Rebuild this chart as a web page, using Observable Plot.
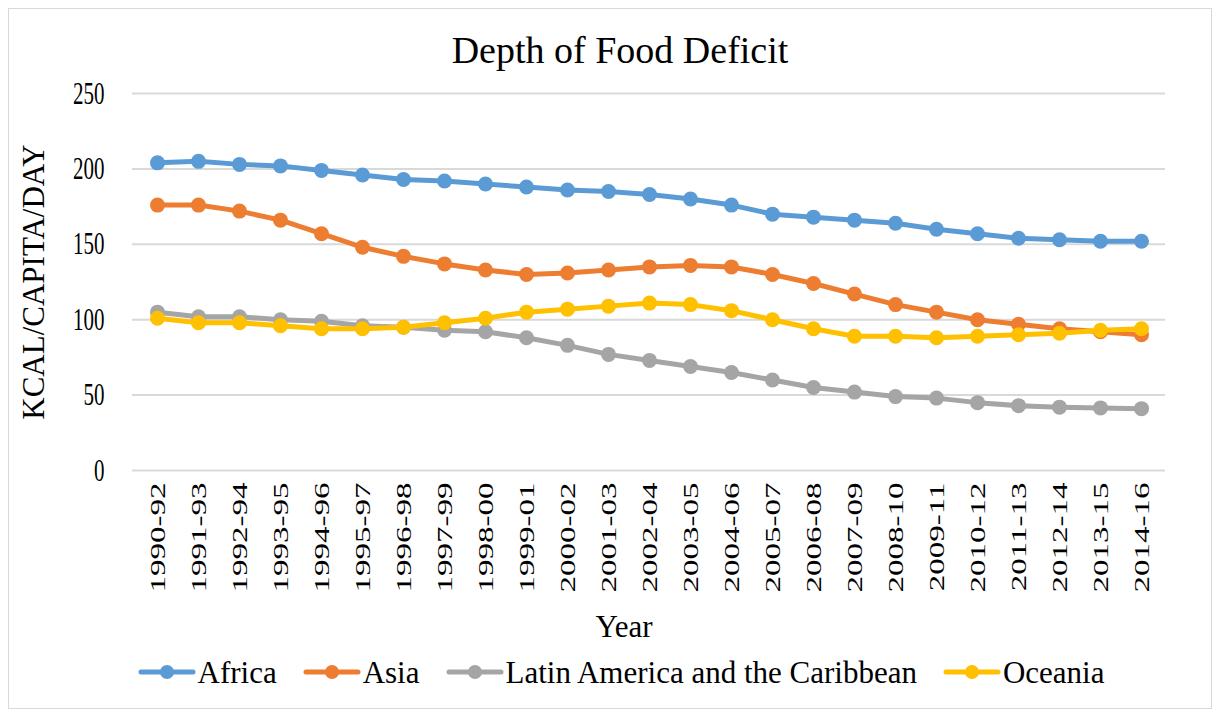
<!DOCTYPE html>
<html>
<head>
<meta charset="utf-8">
<script src="https://cdn.jsdelivr.net/npm/d3@7"></script>
<script src="https://cdn.jsdelivr.net/npm/@observablehq/plot@0.6"></script>
<style>
  html, body { margin: 0; padding: 0; background: #fff; }
  #wrap { position: relative; width: 1221px; height: 717px; overflow: hidden; font-family: "Liberation Serif", "Times New Roman", serif; color: #000; }
  #frame { position: absolute; left: 8px; top: 8px; width: 1204px; height: 701px; border: 1px solid #d9d9d9; box-sizing: border-box; }
  #chart { position: absolute; left: 0; top: 0; }
  #chart svg, #chart svg text { font-family: "Liberation Serif", "Times New Roman", serif !important; }
  .lbl { position: absolute; white-space: nowrap; line-height: 1; }
  #title { left: 0; width: 1240px; top: 31px; text-align: center; font-size: 38px; }
  #ylabel { left: 33px; top: 282px; font-size: 31px; transform: translate(-50%, -50%) rotate(-90deg); }
  #xlabel { left: 0; width: 1248px; top: 611px; text-align: center; font-size: 31px; }
  #legend { position: absolute; left: 0; width: 1242px; top: 655px; height: 34px; display: flex; justify-content: center; align-items: center; font-size: 31px; line-height: 1; }
  .item { display: flex; align-items: center; margin: 0 13px; white-space: nowrap; }
  .item svg { margin-right: 2px; }
</style>
</head>
<body>
<div id="wrap">
  <div id="frame"></div>
  <div id="chart"></div>
  <div class="lbl" id="title"></div>
  <div class="lbl" id="ylabel"></div>
  <div class="lbl" id="xlabel"></div>
  <div id="legend"></div>
</div>
<script>
const titleText = "Depth of Food Deficit";
const yLabelText = "KCAL/CAPITA/DAY";
const xLabelText = "Year";

const periods = ["1990-92","1991-93","1992-94","1993-95","1994-96","1995-97","1996-98","1997-99","1998-00","1999-01","2000-02","2001-03","2002-04","2003-05","2004-06","2005-07","2006-08","2007-09","2008-10","2009-11","2010-12","2011-13","2012-14","2013-15","2014-16"];
const yTicks = [0, 50, 100, 150, 200, 250];

const seriesNames = ["Africa", "Asia", "Latin America and the Caribbean", "Oceania"];
const seriesColors = ["#5B9BD5", "#ED7D31", "#A5A5A5", "#FFC000"];

const africa  = [204, 205, 203, 202, 199, 196, 193, 192, 190, 188, 186, 185, 183, 180, 176, 170, 168, 166, 164, 160, 157, 154, 153, 152, 152];
const asia    = [176, 176, 172, 166, 157, 148, 142, 137, 133, 130, 131, 133, 135, 136, 135, 130, 124, 117, 110, 105, 100, 97, 94, 92, 90];
const latam   = [105, 102, 102, 100, 99, 96, 95, 93, 92, 88, 83, 77, 73, 69, 65, 60, 55, 52, 49, 48, 45, 43, 42, 41.5, 41];
const oceania = [101, 98, 98, 96, 94, 94, 95, 98, 101, 105, 107, 109, 111, 110, 106, 100, 94, 89, 89, 88, 89, 90, 91, 93, 94];

const seriesValues = [africa, asia, latam, oceania];

const rows = [];
seriesNames.forEach((name, s) => {
  seriesValues[s].forEach((v, i) => rows.push({series: name, period: periods[i], value: v}));
});

const seriesMarks = seriesNames.flatMap(name => {
  const d = rows.filter(r => r.series === name);
  return [
    Plot.line(d, {x: "period", y: "value", stroke: "series", strokeWidth: 5, strokeLinejoin: "round", strokeLinecap: "round"}),
    Plot.dot(d, {x: "period", y: "value", fill: "series", r: 7.5, stroke: "none"})
  ];
});

const serif = "Liberation Serif, Times New Roman, serif";

const chart = Plot.plot({
  width: 1221,
  height: 717,
  marginTop: 93,
  marginBottom: 247,
  marginLeft: 132,
  marginRight: 56,
  style: {fontFamily: serif, color: "#000", background: "transparent", overflow: "visible"},
  x: {type: "point", domain: periods, padding: 0.5},
  y: {domain: [0, 250]},
  color: {domain: seriesNames, range: seriesColors},
  marks: [
    Plot.gridY(yTicks, {stroke: "#d9d9d9", strokeOpacity: 1, strokeWidth: 2}),
    Plot.axisY(yTicks, {tickSize: 0, tickPadding: 28, fontSize: 21, fontFamily: serif, label: null, fill: "#000"}),
    Plot.axisX({tickRotate: -90, tickSize: 0, tickPadding: 12, fontSize: 22, fontFamily: serif, label: null, fill: "#000"}),
    ...seriesMarks
  ]
});
document.getElementById("chart").appendChild(chart);

function stretch(sel, sx, sy) {
  chart.querySelectorAll(sel).forEach(t => {
    t.style.setProperty("font-family", "'Liberation Serif', 'Times New Roman', serif", "important");
    t.setAttribute("font-family", "Liberation Serif");
    const tr = t.getAttribute("transform");
    if (tr) {
      t.setAttribute("transform", tr + ` scale(${sx},${sy})`);
    } else {
      const x = +t.getAttribute("x") || 0, y = +t.getAttribute("y") || 0;
      t.setAttribute("transform", `translate(${x},${y}) scale(${sx},${sy}) translate(${-x},${-y})`);
    }
  });
}
stretch('g[aria-label="y-axis tick label"] text', 1, 1.5);
stretch('g[aria-label="x-axis tick label"] text', 1.5, 1);
chart.querySelectorAll("g").forEach(g => {
  if (g.getAttribute("font-family")) g.setAttribute("font-family", "Liberation Serif");
});

document.getElementById("title").textContent = titleText;
document.getElementById("ylabel").textContent = yLabelText;
document.getElementById("xlabel").textContent = xLabelText;

const legend = document.getElementById("legend");
seriesNames.forEach((name, i) => {
  const item = document.createElement("div");
  item.className = "item";
  item.innerHTML = `<svg width="58" height="18" viewBox="0 0 58 18"><line x1="3" y1="9" x2="55" y2="9" stroke="${seriesColors[i]}" stroke-width="5" stroke-linecap="round"/><circle cx="29" cy="9" r="7" fill="${seriesColors[i]}"/></svg><span>${name}</span>`;
  legend.appendChild(item);
});
</script>
</body>
</html>
